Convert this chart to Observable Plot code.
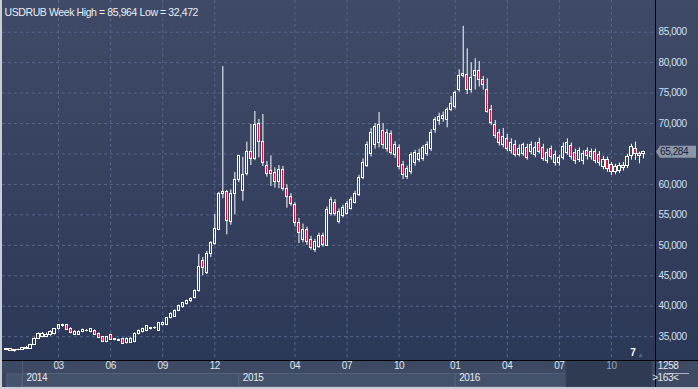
<!DOCTYPE html>
<html><head><meta charset="utf-8">
<script src="https://cdn.jsdelivr.net/npm/d3@7"></script>
<script src="https://cdn.jsdelivr.net/npm/@observablehq/plot@0.6"></script>
<style>
html,body{margin:0;padding:0;background:#c9ced6;}
#wrap{position:relative;width:698px;height:389px;overflow:hidden;background:#c9ced6;}
#chart{position:absolute;left:2px;top:0;}
#chart svg{display:block;}
#chart svg text{letter-spacing:-0.4px;}
</style></head><body><div id="wrap"><div id="chart"></div></div>
<script>
const title = "USDRUB Week High = 85,964 Low = 32,472";
const monthTicks = [13, 26, 39, 52, 72, 85, 98, 112, 125, 138, 151];
const monthLabels = ["03", "06", "09", "12", "04", "07", "10", "01", "04", "07", "10"];
const yearStarts = [4, 58, 112];
const yearLabels = ["2014", "2015", "2016"];
const yTicks = [35, 40, 45, 50, 55, 60, 65, 70, 75, 80, 85];
const navStart = 140;
const barCountLabel = "1258";
const visibleLabel = ">163<";
const markerLabel = "7";

const openV = [32.80,32.90,32.72,32.78,32.85,33.05,33.00,33.66,34.70,35.00,35.00,35.30,35.40,36.30,36.70,36.85,36.30,35.30,35.35,35.80,
35.90,35.75,36.00,35.50,34.90,34.10,35.30,34.45,34.35,34.65,33.90,34.00,34.10,35.40,35.70,35.90,36.35,36.35,36.00,36.90,
36.90,38.00,38.30,39.20,39.80,40.30,40.80,41.30,42.50,47.50,45.50,48.50,50.25,52.60,58.35,58.73,53.80,58.46,60.76,59.00,
61.75,65.25,64.20,69.96,67.05,63.00,62.13,61.85,60.37,62.29,59.29,57.91,56.70,53.64,50.80,52.50,50.80,49.30,49.80,51.50,
49.90,55.20,57.00,53.80,54.80,55.20,56.00,57.00,58.30,61.00,63.00,65.00,66.50,66.80,68.80,65.80,68.30,64.80,66.00,63.20,
61.30,62.00,63.50,64.00,64.20,65.00,65.80,68.86,70.50,70.67,70.60,72.15,72.68,75.43,77.84,78.05,75.54,77.73,78.55,77.07,
75.43,72.15,69.70,68.50,66.50,67.50,65.50,66.50,64.80,65.00,66.00,65.30,64.80,66.80,66.00,63.80,65.80,63.50,63.60,64.30,
65.20,66.30,65.20,64.00,63.80,65.50,64.50,65.30,64.90,62.80,64.00,63.20,62.00,62.20,62.70,63.00,64.59,65.86,65.04,64.92];
const highV = [33.00,33.00,32.90,32.95,33.20,33.40,33.75,34.80,35.60,35.70,35.60,35.95,36.35,37.00,37.05,37.00,36.45,36.00,35.95,36.25,
36.15,36.30,36.10,35.60,35.00,35.05,35.40,34.70,34.60,34.75,34.80,34.80,35.60,36.10,36.40,36.80,36.50,36.60,37.30,37.40,
38.10,38.90,39.40,40.20,40.60,41.00,41.40,42.70,48.50,48.00,49.00,50.60,55.10,58.70,79.35,59.00,59.10,61.96,64.70,64.47,
66.94,69.85,71.98,70.67,71.49,63.77,64.70,62.73,63.10,62.95,59.94,58.50,57.00,54.40,53.50,53.00,51.50,51.00,52.00,52.00,
56.30,57.90,57.50,56.00,56.60,57.20,57.90,58.90,61.50,64.20,67.00,69.20,70.00,71.80,70.00,69.00,68.80,67.00,66.50,63.80,
63.00,65.20,65.60,65.80,66.40,67.00,69.00,71.00,71.70,71.90,72.59,74.44,75.30,78.83,85.964,82.27,79.98,80.63,80.19,77.73,
77.35,72.96,70.50,69.00,69.20,68.20,67.50,67.20,66.50,66.80,66.60,67.00,66.90,67.60,66.60,65.80,66.30,65.50,64.80,66.80,
67.50,66.80,65.80,66.00,65.50,66.00,65.80,65.80,65.40,64.60,64.50,63.60,63.30,63.50,63.60,64.90,66.60,66.94,65.30,65.46];
const lowV = [32.70,32.60,32.47,32.70,32.80,32.95,32.95,33.60,34.60,34.80,34.85,35.10,35.30,36.10,36.55,36.05,35.50,35.20,35.25,35.65,
35.80,35.65,35.20,34.70,34.10,34.00,34.40,34.35,34.25,33.75,33.80,33.90,34.00,35.30,35.60,35.80,36.10,36.20,35.90,36.80,
36.80,37.90,38.20,39.10,39.70,40.20,40.60,41.20,42.30,45.00,45.20,48.00,50.00,52.40,57.65,51.73,53.30,55.00,60.30,57.25,
61.40,63.11,63.90,64.38,62.95,61.20,59.66,59.40,59.30,58.90,56.10,56.40,53.00,50.30,50.40,50.00,49.20,48.80,49.50,49.70,
49.80,54.80,54.80,53.50,54.50,55.00,55.80,56.80,58.00,60.80,62.80,64.50,65.80,66.00,65.80,65.30,64.80,64.30,62.40,60.80,
60.80,61.60,63.00,63.60,63.80,64.60,65.40,68.40,69.70,70.20,69.30,72.00,72.40,75.15,77.50,74.77,75.00,75.50,76.00,75.50,
71.70,69.68,67.50,66.30,66.00,65.40,65.00,64.50,64.50,64.60,64.00,64.90,64.40,65.00,63.80,63.40,64.00,63.00,63.00,64.00,
64.80,64.00,63.30,63.60,63.20,64.00,64.00,63.40,63.00,62.40,62.00,61.50,61.60,61.80,62.20,62.60,64.00,63.93,63.39,64.21];
const closeV = [32.90,32.72,32.82,32.88,33.10,33.15,33.66,34.70,35.50,35.40,35.25,35.80,36.20,36.85,36.85,36.15,35.60,35.85,35.85,36.10,
36.00,36.20,35.30,34.80,34.20,34.95,34.50,34.55,34.45,33.85,34.70,34.70,35.50,36.00,36.30,36.70,36.25,36.45,37.20,37.20,
38.00,38.80,39.30,40.10,40.50,40.80,41.20,42.50,46.50,46.20,48.50,50.35,52.70,58.35,58.80,53.96,58.46,60.76,64.59,61.63,
65.25,64.20,69.68,66.94,63.49,61.75,61.75,60.37,62.29,59.17,57.91,56.82,53.64,52.00,52.50,50.50,49.50,50.50,51.50,50.00,
55.80,57.40,55.20,55.50,56.20,56.80,57.50,58.50,61.00,63.50,66.50,68.50,69.50,69.80,66.50,68.50,65.20,66.50,62.80,61.50,
62.50,64.80,65.20,65.00,66.00,66.50,68.50,70.61,71.05,71.21,72.30,73.13,74.98,77.73,78.17,75.43,77.51,78.55,77.07,76.36,
71.86,70.06,68.00,66.80,67.80,65.80,66.80,64.80,65.80,66.40,64.30,66.50,66.00,65.30,64.20,65.20,64.50,64.80,64.30,66.20,
66.80,64.50,63.80,65.50,65.00,64.60,65.30,63.80,63.50,64.00,62.50,62.00,62.80,63.00,63.10,64.50,66.12,65.04,64.59,65.284];

const candles = openV.map((o, i) => ({i, o, h: highV[i], l: lowV[i], c: closeV[i]}));
const last = candles[candles.length - 1];
const fmt = v => d3.format(".3f")(v).replace(".", ",");
const months = monthTicks.map((i, k) => ({i, label: monthLabels[k]}));
const years = yearStarts.map((i, k) => ({i, label: yearLabels[k]}));
const yLabelTicks = yTicks.filter(t => Math.abs(t - last.c) > 1.5); // the price tag covers the nearest label
const red = "#dc143c";
const grid = "#56658a";

const chart = Plot.plot({
  width: 696, height: 387,
  marginLeft: 0, marginRight: 43, marginTop: 0, marginBottom: 27,
  x: {domain: [-1, 162], axis: null},
  y: {domain: [31.09, 90.205], axis: null},
  style: {background: "#2f3b58", fontFamily: "'Liberation Sans', Arial, sans-serif", fontSize: "10px"},
  marks: [
    Plot.gridY(yTicks, {stroke: grid, strokeOpacity: 1, strokeDasharray: "3,3"}),
    Plot.gridX(monthTicks, {stroke: grid, strokeOpacity: 1, strokeDasharray: "3,3"}),
    Plot.ruleX(candles, {x: "i", y1: "h", y2: d => Math.max(d.o, d.c), stroke: "#ffffff"}),
    Plot.ruleX(candles, {x: "i", y1: "l", y2: d => Math.min(d.o, d.c), stroke: "#ffffff"}),
    Plot.rect(candles, {x1: d => d.i - 0.27, x2: d => d.i + 0.27, y1: "o", y2: "c",
      fill: d => d.c < d.o ? red : "none", stroke: "#ffffff", strokeWidth: 1, shapeRendering: "crispEdges"}),
    Plot.text([title], {frameAnchor: "top-left", dx: 2, dy: 8, text: d => d, fill: "#e9eef6", textAnchor: "start", fontSize: 10.5}),
    Plot.text(yLabelTicks, {y: d => d, frameAnchor: "right", dx: 3, textAnchor: "start", text: d => fmt(d), fill: "#d4e0f2"}),
    Plot.text(months, {x: "i", frameAnchor: "bottom", dy: 8.5, text: "label",
      fill: d => d.i >= navStart ? "#96a2b6" : "#dde6f3"}),
    Plot.text(years, {x: "i", frameAnchor: "bottom", dy: 20, dx: 4, textAnchor: "start", text: "label", fill: "#e4e9f2"}),
    Plot.text([markerLabel], {frameAnchor: "bottom-right", dx: -20, dy: -5, text: d => d, fill: "#ffffff", fontWeight: "bold"}),
    Plot.text(["\u25B2"], {frameAnchor: "bottom-right", dx: -12, dy: -4, text: d => d, fill: "#56627a", fontSize: 7}),
    Plot.text([barCountLabel], {frameAnchor: "bottom-right", dx: 23, dy: 8, text: d => d, fill: "#e4e9f2"}),
    Plot.text([visibleLabel], {frameAnchor: "bottom-right", dx: 23, dy: 20.5, text: d => d, fill: "#e4e9f2"})
  ]
});
document.getElementById("chart").appendChild(chart);

// decorative panels drawn from the plot's own scales
const xs = chart.scale("x"), ys = chart.scale("y");
const svg = d3.select(chart);
const W = 696, H = 387, plotR = W - 43, plotB = H - 27;
const defs = svg.insert("defs", ":first-child");
const lg = defs.append("linearGradient").attr("id", "bgGrad").attr("x1", 0).attr("y1", 0).attr("x2", 0).attr("y2", 1);
lg.append("stop").attr("offset", "0%").attr("stop-color", "#3f4b66");
lg.append("stop").attr("offset", "100%").attr("stop-color", "#2c3857");
const bg = svg.insert("g", "defs + *");
bg.append("rect").attr("x", 0).attr("y", 0).attr("width", W).attr("height", plotB).attr("fill", "url(#bgGrad)");
bg.append("rect").attr("x", 0).attr("y", plotB).attr("width", W).attr("height", 13).attr("fill", "#3e4a64");
bg.append("rect").attr("x", 0).attr("y", plotB + 13).attr("width", plotR).attr("height", 14).attr("fill", "#3a465f");
bg.append("rect").attr("x", 5).attr("y", plotB + 14).attr("width", xs.apply(yearStarts[0]) - 5).attr("height", 13)
  .attr("fill", "#46536d").attr("stroke", "#56637d");
const navX = xs.apply(navStart - 0.25);
years.forEach((d, k) => {
  const x0 = xs.apply(d.i);
  const x1 = k + 1 < years.length ? xs.apply(years[k + 1].i) : navX;
  bg.append("rect").attr("x", x0 + 0.5).attr("y", plotB + 13.5).attr("width", x1 - x0).attr("height", 13)
    .attr("fill", "#44516b").attr("stroke", "#55627c");
});
bg.append("line").attr("x1", xs.apply(yearStarts[0]) + 0.5).attr("x2", xs.apply(yearStarts[0]) + 0.5)
  .attr("y1", plotB).attr("y2", H).attr("stroke", "#55627c");
bg.append("rect").attr("x", navX).attr("y", plotB + 1).attr("width", plotR - 3 - navX).attr("height", 26)
  .attr("fill", "#2f3a53").attr("stroke", "#3c4862");
bg.append("rect").attr("x", plotR).attr("y", plotB).attr("width", W - plotR).attr("height", 27).attr("fill", "#3f4b65");
bg.append("line").attr("x1", plotR + 12).attr("x2", plotR + 34).attr("y1", plotB + 13.5).attr("y2", plotB + 13.5).attr("stroke", "#aab4c4");
bg.append("line").attr("x1", 0).attr("x2", W).attr("y1", plotB + 0.5).attr("y2", plotB + 0.5).attr("stroke", "#000000");
bg.append("line").attr("x1", plotR + 0.5).attr("x2", plotR + 0.5).attr("y1", 0).attr("y2", H).attr("stroke", "#000000");
const py = ys.apply(last.c);
svg.append("path").attr("d", `M${plotR + 1},${py} L${plotR + 5},${py - 6} L${W - 2},${py - 6} L${W - 2},${py + 6} L${plotR + 5},${py + 6} Z`)
  .attr("fill", "#8c96a8");
svg.append("text").attr("x", plotR + 5).attr("y", py).attr("dy", "0.32em").attr("text-anchor", "start")
  .attr("fill", "#17213a").attr("font-family", "'Liberation Sans', Arial, sans-serif").attr("font-size", 10)
  .text(fmt(last.c));
</script></body></html>
